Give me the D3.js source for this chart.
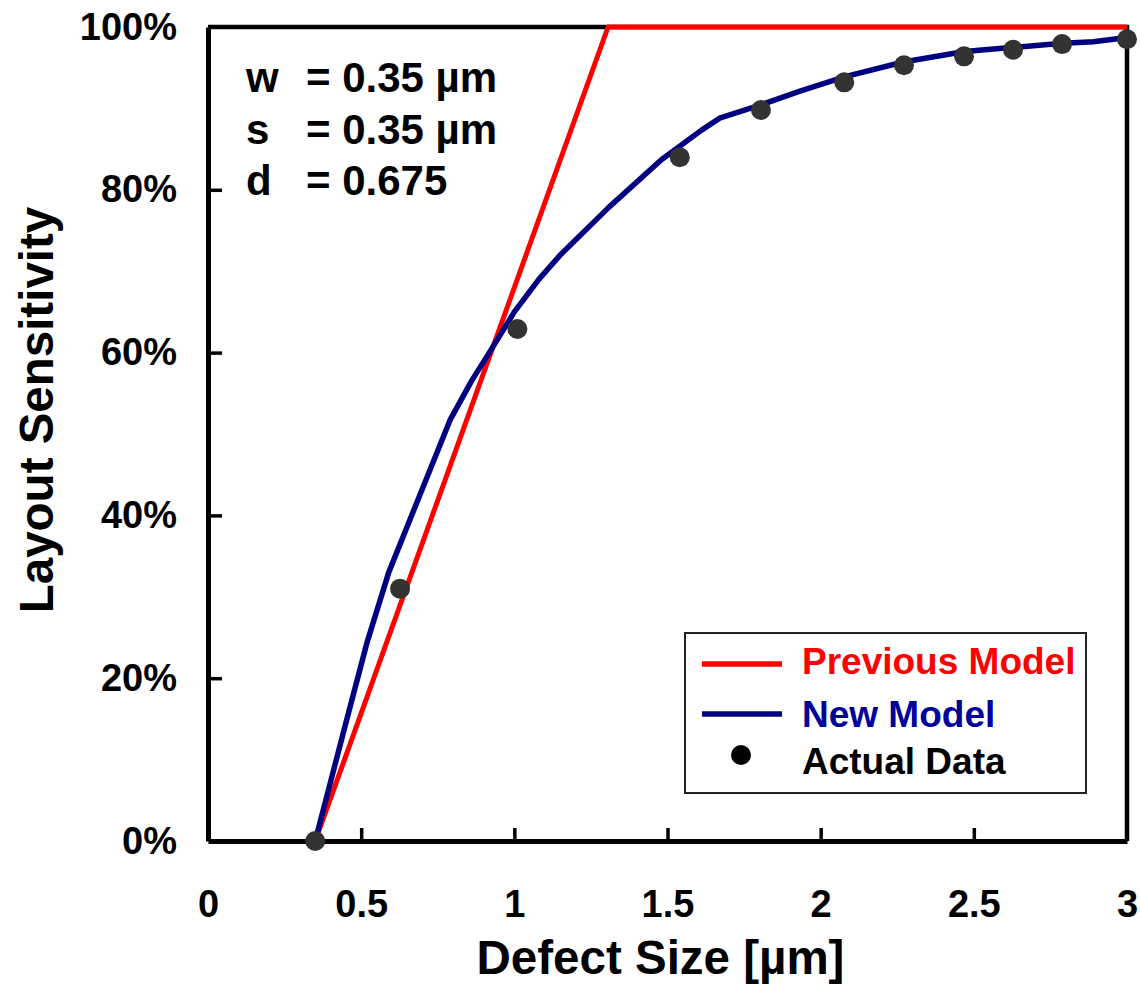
<!DOCTYPE html>
<html>
<head>
<meta charset="utf-8">
<script src="https://cdn.jsdelivr.net/npm/d3@7"></script>
<style>
  html, body { margin: 0; padding: 0; background: #fff; }
  svg { display: block; font-family: "Liberation Sans", Arial, sans-serif; font-weight: bold; }
</style>
</head>
<body>
<svg id="chart" width="1140" height="984"></svg>
<script>
// Defect size (µm) vs. layout sensitivity (fraction)
const xTicks = [0, 0.5, 1, 1.5, 2, 2.5, 3];
const yTicks = [0, 0.2, 0.4, 0.6, 0.8, 1.0];

// Previous model: linear ramp, saturating at 100%
const prevX = [0.35, 1.306, 3.0];
const prevY = [0, 1.0, 1.0];

// New model curve
const newX = [0.35, 0.45, 0.52, 0.59, 0.79, 0.86, 0.93, 1.0, 1.08, 1.15, 1.31, 1.48, 1.61, 1.67, 1.81, 1.93, 2.08, 2.27, 2.47, 2.63, 2.79, 2.89, 3.0];
const newY = [0, 0.145, 0.245, 0.330, 0.517, 0.565, 0.607, 0.650, 0.690, 0.720, 0.779, 0.837, 0.873, 0.888, 0.905, 0.921, 0.939, 0.957, 0.970, 0.975, 0.980, 0.982, 0.987];

// Measured data points
const dataX = [0.35, 0.627, 1.01, 1.54, 1.805, 2.077, 2.272, 2.468, 2.628, 2.788, 3.0];
const dataY = [0, 0.310, 0.629, 0.840, 0.898, 0.932, 0.953, 0.964, 0.972, 0.979, 0.985];

// Parameter annotation
const paramNames = ["w", "s", "d"];
const paramValues = ["= 0.35 µm", "= 0.35 µm", "= 0.675"];

const legendLabels = ["Previous Model", "New Model", "Actual Data"];

const RED = "#ff0000", NAVY = "#000080", DOT = "#333333";

const svg = d3.select("#chart");
const plot = { left: 208, right: 1127, top: 27, bottom: 841 };

const x = d3.scaleLinear().domain([0, 3]).range([plot.left, plot.right]);
const y = d3.scaleLinear().domain([0, 1]).range([plot.bottom, plot.top]);

// Frame (top + right)
svg.append("path")
  .attr("d", `M${plot.left},${plot.top}H${plot.right}V${plot.bottom}`)
  .attr("fill", "none").attr("stroke", "#000").attr("stroke-width", 4.5);

// X axis: inward ticks
const xAxis = svg.append("g").attr("transform", `translate(0,${plot.bottom})`)
  .call(d3.axisBottom(x).tickValues(xTicks).tickSizeInner(-13).tickSizeOuter(0)
    .tickPadding(38).tickFormat(d3.format("")));
xAxis.select(".domain").attr("stroke-width", 5);
xAxis.selectAll(".tick line").attr("stroke-width", 3.5)
  .filter(d => d === 0 || d === 3).remove();
xAxis.selectAll(".tick text").attr("font-size", 38).attr("fill", "#000")
  .attr("font-family", "Liberation Sans, Arial, sans-serif").attr("font-weight", "bold")
  .attr("dy", "0.71em").attr("y", 49);

// Y axis: inward ticks
const yAxis = svg.append("g").attr("transform", `translate(${plot.left},0)`)
  .call(d3.axisLeft(y).tickValues(yTicks).tickSizeInner(-14).tickSizeOuter(0)
    .tickPadding(32).tickFormat(d3.format(".0%")));
yAxis.select(".domain").attr("stroke-width", 5);
yAxis.selectAll(".tick line").attr("stroke-width", 3.5)
  .filter(d => d === 0 || d === 1).remove();
yAxis.selectAll(".tick text").attr("font-size", 38).attr("fill", "#000")
  .attr("font-family", "Liberation Sans, Arial, sans-serif").attr("font-weight", "bold")
  .attr("x", -31);

// Axis titles
svg.append("text")
  .attr("x", (plot.left + plot.right) / 2 - 7).attr("y", 974)
  .attr("text-anchor", "middle").attr("font-size", 47.5)
  .text("Defect Size [µm]");
svg.append("text")
  .attr("transform", `translate(53,${410}) rotate(-90)`)
  .attr("text-anchor", "middle").attr("font-size", 47.5)
  .text("Layout Sensitivity");

const line = d3.line().x(d => x(d[0])).y(d => y(d[1])).curve(d3.curveLinear);

// Previous model
svg.append("path")
  .datum(prevX.map((v, i) => [v, prevY[i]]))
  .attr("d", line).attr("fill", "none")
  .attr("stroke", RED).attr("stroke-width", 5).attr("stroke-linejoin", "round");

// New model
svg.append("path")
  .datum(newX.map((v, i) => [v, newY[i]]))
  .attr("d", line).attr("fill", "none")
  .attr("stroke", NAVY).attr("stroke-width", 5.5).attr("stroke-linejoin", "round");

// Actual data
svg.append("g").selectAll("circle")
  .data(dataX.map((v, i) => [v, dataY[i]]))
  .join("circle")
  .attr("cx", d => x(d[0])).attr("cy", d => y(d[1])).attr("r", 10)
  .attr("fill", DOT);

// Parameter annotation
const ann = svg.append("g").attr("font-size", 42).attr("fill", "#000");
paramNames.forEach((n, i) => {
  const by = 92 + i * 51.5;
  ann.append("text").attr("x", 246).attr("y", by).text(n);
  ann.append("text").attr("x", 306).attr("y", by).text(paramValues[i]);
});

// Legend
const lg = svg.append("g");
lg.append("rect").attr("x", 685).attr("y", 633).attr("width", 401).attr("height", 160)
  .attr("fill", "#fff").attr("stroke", "#222").attr("stroke-width", 2);
const rows = [664, 714, 755];
const legendColors = [RED, NAVY, "#000"];
[0, 1].forEach(i => {
  lg.append("line").attr("x1", 702).attr("x2", 782).attr("y1", rows[i]).attr("y2", rows[i])
    .attr("stroke", i === 0 ? RED : NAVY).attr("stroke-width", 5.5);
});
lg.append("circle").attr("cx", 741).attr("cy", rows[2]).attr("r", 10).attr("fill", "#000");
legendLabels.forEach((t, i) => {
  lg.append("text").attr("x", 802).attr("y", [674, 727, 774][i])
    .attr("font-size", 37).attr("fill", i === 1 ? "#00009c" : legendColors[i]).text(t);
});
</script>
</body>
</html>
